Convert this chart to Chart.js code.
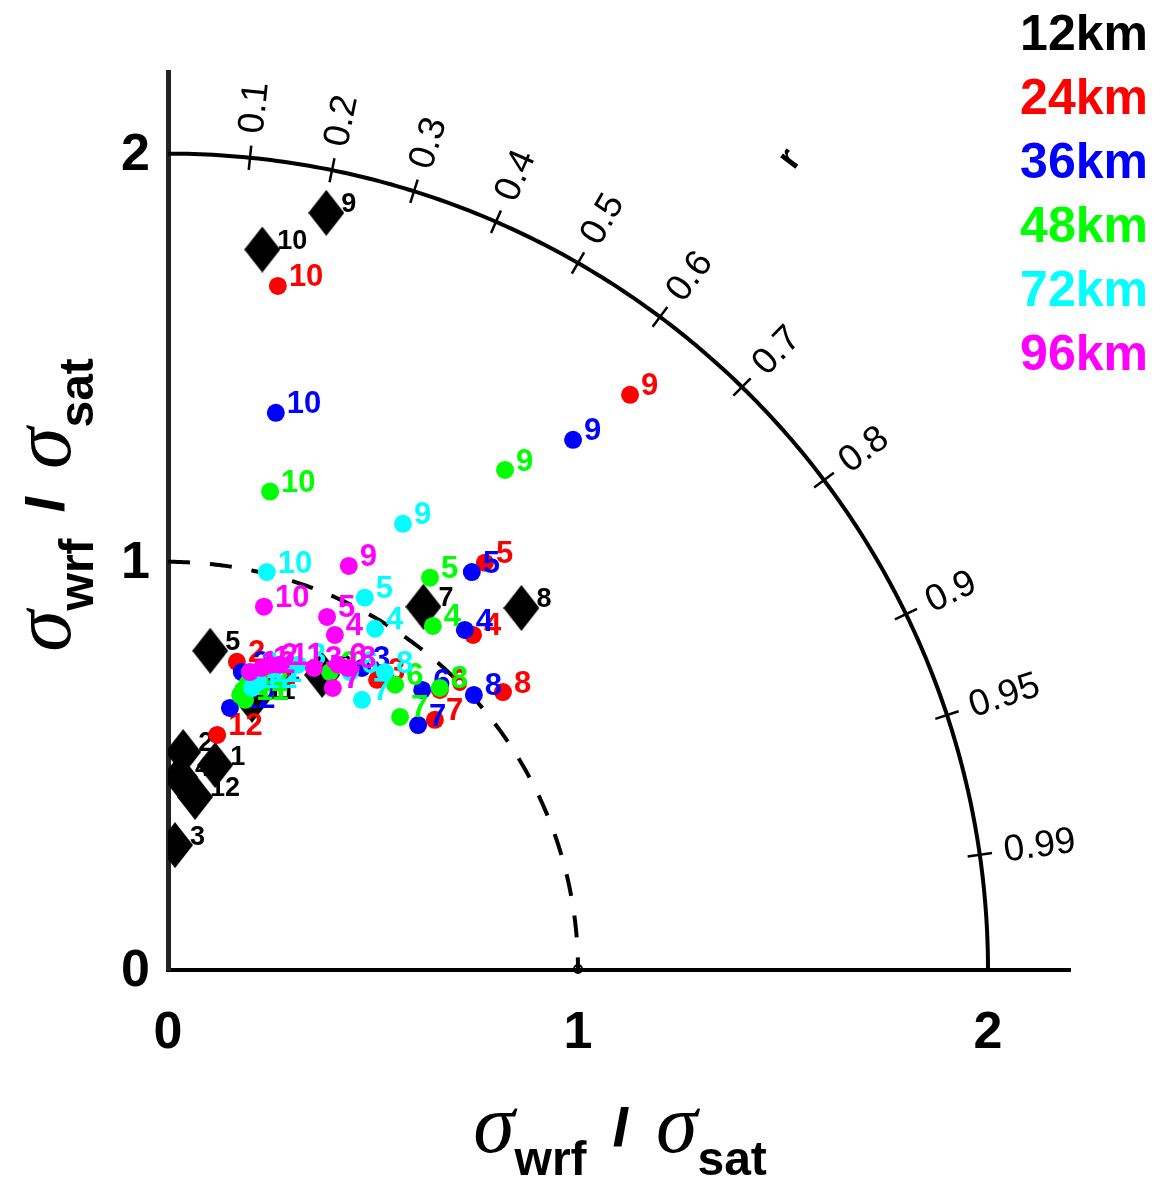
<!DOCTYPE html>
<html>
<head>
<meta charset="utf-8">
<script src="https://cdn.jsdelivr.net/npm/chart.js@4/dist/chart.umd.min.js"></script>
<style>
  html, body { margin: 0; padding: 0; background: #fff; }
  #wrap { width: 1157px; height: 1180px; }
</style>
</head>
<body>
<div id="wrap"><canvas id="taylor" width="1157" height="1180"></canvas></div>
<script>
// Taylor diagram - sigma_wrf / sigma_sat vs correlation, months 1..12

const months = ['1', '2', '3', '4', '5', '6', '7', '8', '9', '10', '11', '12'];

// x = sigma ratio * r, y = sigma ratio * sin(acos r)
const x12km = [0.115, 0.037, 0.017, 0.029, 0.103, 0.376, 0.623, 0.862, 0.386, 0.230, 0.205, 0.066];
const y12km = [0.502, 0.534, 0.306, 0.473, 0.782, 0.723, 0.890, 0.887, 1.855, 1.765, 0.662, 0.424];

const x24km = [0.188, 0.168, 0.510, 0.744, 0.773, 0.663, 0.651, 0.817, 1.127, 0.268, 0.205, 0.120];
const y24km = [0.686, 0.755, 0.711, 0.821, 0.998, 0.686, 0.613, 0.681, 1.409, 1.676, 0.703, 0.576];

const x36km = [0.200, 0.180, 0.473, 0.724, 0.741, 0.620, 0.610, 0.746, 0.988, 0.263, 0.215, 0.151];
const y36km = [0.686, 0.730, 0.740, 0.833, 0.975, 0.686, 0.600, 0.674, 1.299, 1.365, 0.711, 0.642];

const x48km = [0.176, 0.195, 0.395, 0.646, 0.639, 0.554, 0.566, 0.663, 0.822, 0.249, 0.188, 0.183];
const y48km = [0.674, 0.703, 0.730, 0.843, 0.961, 0.699, 0.620, 0.691, 1.225, 1.172, 0.662, 0.686];

const x72km = [0.212, 0.200, 0.317, 0.505, 0.480, 0.444, 0.473, 0.529, 0.573, 0.241, 0.220, 0.205];
const y72km = [0.716, 0.730, 0.748, 0.836, 0.912, 0.730, 0.662, 0.730, 1.093, 0.975, 0.706, 0.691];

const x96km = [0.229, 0.249, 0.356, 0.407, 0.388, 0.415, 0.402, 0.439, 0.441, 0.234, 0.273, 0.200];
const y96km = [0.740, 0.748, 0.740, 0.821, 0.865, 0.748, 0.691, 0.740, 0.990, 0.890, 0.748, 0.730];

const seriesNames = ['12km', '24km', '36km', '48km', '72km', '96km'];
const seriesColors = ['#000000', '#ff0000', '#0000ff', '#00ff00', '#00ffff', '#ff00ff'];

const corrTicks = [0.1, 0.2, 0.3, 0.4, 0.5, 0.6, 0.7, 0.8, 0.9, 0.95, 0.99];
const axisTicks = [0, 1, 2];
const refRadius = 1;   // dashed arc (observation)
const maxRadius = 2;   // outer solid arc

const SANS = '"Liberation Sans", Arial, sans-serif';
const SERIF = '"Liberation Serif", "Times New Roman", serif';

function makeDiamond(w, h) {
    const c = document.createElement('canvas');
    c.width = w; c.height = h;
    const g = c.getContext('2d');
    g.beginPath();
    g.moveTo(w / 2, 0); g.lineTo(w, h / 2); g.lineTo(w / 2, h); g.lineTo(0, h / 2);
    g.closePath();
    g.fillStyle = '#000';
    g.fill();
    return c;
}

function toPoints(xs, ys) {
    return xs.map((x, i) => ({ x: x, y: ys[i] }));
}

const allX = [x12km, x24km, x36km, x48km, x72km, x96km];
const allY = [y12km, y24km, y36km, y48km, y72km, y96km];
const diamond = makeDiamond(36, 46);

const datasets = seriesNames.map((name, i) => ({
    label: name,
    data: toPoints(allX[i], allY[i]),
    pointStyle: i === 0 ? diamond : 'circle',
    pointRadius: i === 0 ? 18 : 9,
    backgroundColor: seriesColors[i],
    borderColor: seriesColors[i],
    borderWidth: 0,
    order: 6 - i // magenta on top, black at the bottom
}));

// σ_wrf / σ_sat title, drawn piece by piece
function drawSigmaTitle(ctx, cx, cy, rot) {
    const pieces = [
        { t: 'σ', f: 'italic 84px ' + SERIF, dy: -4 },
        { t: 'wrf', f: 'bold 48px ' + SANS, dy: 28 },
        { t: '  /  ', f: 'bold 50px ' + SANS, dy: -4 },
        { t: 'σ', f: 'italic 84px ' + SERIF, dy: -4 },
        { t: 'sat', f: 'bold 48px ' + SANS, dy: 28 }
    ];
    ctx.save();
    ctx.translate(cx, cy);
    ctx.rotate(rot);
    let total = 0;
    pieces.forEach(p => { ctx.font = p.f; p.w = ctx.measureText(p.t).width; total += p.w; });
    let x = -total / 2;
    ctx.textBaseline = 'middle';
    ctx.textAlign = 'left';
    ctx.fillStyle = '#000';
    ctx.strokeStyle = '#000';
    pieces.forEach(p => {
        ctx.font = p.f;
        ctx.fillText(p.t, x, p.dy);
        if (p.t.trim() === '/') { ctx.lineWidth = 2; ctx.strokeText(p.t, x, p.dy); }
        x += p.w;
    });
    ctx.restore();
}

const taylorPlugin = {
    id: 'taylor',
    beforeDatasetsDraw(chart) {
        const ctx = chart.ctx;
        const sx = chart.scales.x, sy = chart.scales.y;
        const P = (r, th) => [sx.getPixelForValue(r * Math.cos(th)), sy.getPixelForValue(r * Math.sin(th))];
        ctx.save();
        ctx.strokeStyle = '#000';

        // outer arc
        ctx.lineWidth = 4;
        ctx.beginPath();
        for (let k = 0; k <= 200; k++) {
            const p = P(maxRadius, (Math.PI / 2) * k / 200);
            k === 0 ? ctx.moveTo(p[0], p[1]) : ctx.lineTo(p[0], p[1]);
        }
        ctx.stroke();

        // reference dashed arc
        ctx.setLineDash([22, 20]);
        ctx.beginPath();
        for (let k = 0; k <= 200; k++) {
            const p = P(refRadius, (Math.PI / 2) * (1 - k / 200));
            k === 0 ? ctx.moveTo(p[0], p[1]) : ctx.lineTo(p[0], p[1]);
        }
        ctx.stroke();
        ctx.setLineDash([]);

        // reference point
        const o = P(refRadius, 0);
        ctx.lineWidth = 2;
        ctx.beginPath();
        ctx.arc(o[0], o[1] - 1, 4, 0, Math.PI * 2);
        ctx.stroke();

        // correlation ticks + labels
        ctx.font = '37px ' + SANS;
        ctx.fillStyle = '#000';
        ctx.textAlign = 'left';
        ctx.textBaseline = 'middle';
        corrTicks.forEach(c => {
            const th = Math.acos(c);
            const a = P(maxRadius - 0.03, th), b = P(maxRadius + 0.03, th);
            ctx.lineWidth = 2.5;
            ctx.beginPath(); ctx.moveTo(a[0], a[1]); ctx.lineTo(b[0], b[1]); ctx.stroke();
            const t = P(maxRadius + 0.06, th);
            ctx.save();
            ctx.translate(t[0], t[1]);
            ctx.rotate(-th);
            ctx.fillText(String(c), 0, 0);
            ctx.restore();
        });

        // 'r' label
        const thR = Math.acos(0.607);
        const rp = P(2.5, thR);
        ctx.save();
        ctx.translate(rp[0], rp[1]);
        ctx.rotate(-thR);
        ctx.font = 'bold 36px ' + SANS;
        ctx.textAlign = 'center';
        ctx.fillText('r', 0, 0);
        ctx.restore();

        ctx.restore();
    },
    afterDatasetDraw(chart, args) {
        const ctx = chart.ctx;
        const i = args.index;
        ctx.save();
        ctx.fillStyle = seriesColors[i];
        ctx.font = (i === 0 ? 'bold 27px ' : 'bold 31px ') + SANS;
        ctx.textAlign = 'left';
        ctx.textBaseline = 'middle';
        args.meta.data.forEach((el, k) => {
            const dx = i === 0 ? 15 : 11;
            ctx.fillText(months[k], el.x + dx, el.y - 8);
        });
        ctx.restore();
    },
    afterDraw(chart) {
        const ctx = chart.ctx;
        const sx = chart.scales.x, sy = chart.scales.y;
        ctx.save();
        ctx.fillStyle = '#000';
        ctx.font = 'bold 52px ' + SANS;

        // axis tick labels
        ctx.textAlign = 'center';
        ctx.textBaseline = 'middle';
        axisTicks.forEach(v => ctx.fillText(String(v), sx.getPixelForValue(v), sy.getPixelForValue(0) + 64));
        ctx.textAlign = 'right';
        axisTicks.forEach(v => ctx.fillText(String(v), sx.getPixelForValue(0) - 18, sy.getPixelForValue(v) + 2));

        // titles
        drawSigmaTitle(ctx, 620, 1134, 0);
        drawSigmaTitle(ctx, 52, 505, -Math.PI / 2);

        // legend (text only)
        ctx.font = 'bold 50px ' + SANS;
        ctx.textAlign = 'right';
        ctx.textBaseline = 'middle';
        seriesNames.forEach((n, i) => {
            ctx.fillStyle = seriesColors[i];
            ctx.fillText(n, 1148, 36 + i * 64);
        });
        ctx.restore();
    }
};

new Chart(document.getElementById('taylor'), {
    type: 'scatter',
    data: { datasets: datasets },
    options: {
        responsive: false,
        animation: false,
        devicePixelRatio: 1,
        layout: { padding: { left: 168, right: 87, top: 72, bottom: 210 } },
        plugins: { legend: { display: false }, tooltip: { enabled: false } },
        scales: {
            x: {
                type: 'linear', min: 0, max: 2.2,
                grid: { display: false, drawTicks: false, tickLength: 0 },
                ticks: { display: false },
                border: { display: true, color: '#000', width: 4 }
            },
            y: {
                type: 'linear', min: 0, max: 2.2,
                grid: { display: false, drawTicks: false, tickLength: 0 },
                ticks: { display: false },
                border: { display: true, color: '#222', width: 5 }
            }
        }
    },
    plugins: [taylorPlugin]
});
</script>
</body>
</html>
